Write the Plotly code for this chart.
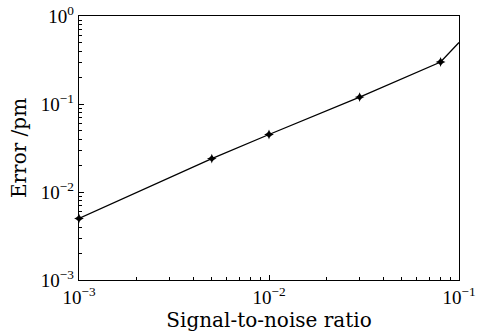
import plotly.graph_objects as go

snr = [0.001, 0.005, 0.01, 0.03, 0.08, 0.1]
error = [0.005, 0.024, 0.045, 0.12, 0.30, 0.50]

x_tickvals = [1e-3, 1e-2, 1e-1]
x_ticktext = ["10<sup>−3</sup>", "10<sup>−2</sup>", "10<sup>−1</sup>"]
y_tickvals = [1e-3, 1e-2, 1e-1, 1e0]
y_ticktext = ["10<sup>−3</sup>", "10<sup>−2</sup>", "10<sup>−1</sup>", "10<sup>0</sup>"]

x_minor = [m * 10.0 ** e for e in (-3, -2) for m in range(2, 10)]
y_minor = [m * 10.0 ** e for e in (-3, -2, -1) for m in range(2, 10)]

font = dict(family="Liberation Serif, Times New Roman, serif", size=19, color="black")
title_font = dict(family="DejaVu Serif, serif", size=20, color="black")

fig = go.Figure()
fig.add_trace(go.Scatter(
    x=snr, y=error, mode="lines+markers",
    line=dict(color="black", width=1.3),
    marker=dict(symbol="star-diamond", size=7, color="black"),
    cliponaxis=False, showlegend=False,
))

axis_common = dict(
    type="log", showgrid=False, zeroline=False, automargin=False,
    showline=True, linecolor="black", linewidth=1.3, mirror=True,
    ticks="inside", ticklen=5, tickwidth=1, tickcolor="black",
    tickfont=font, ticklabeloverflow="allow",
)

fig.update_xaxes(range=[-3, -1], tickvals=x_tickvals, ticktext=x_ticktext,
                 minor=dict(tickvals=x_minor, ticks="inside", ticklen=3, tickwidth=1,
                            tickcolor="black", showgrid=False),
                 title=dict(text="Signal-to-noise ratio", font=title_font, standoff=0),
                 **axis_common)
fig.update_yaxes(range=[-3, 0], tickvals=y_tickvals, ticktext=y_ticktext,
                 minor=dict(tickvals=y_minor, ticks="inside", ticklen=3, tickwidth=1,
                            tickcolor="black", showgrid=False),
                 title=dict(text="Error /pm", font=title_font, standoff=8),
                 **axis_common)

fig.update_layout(
    width=489, height=336,
    margin=dict(l=79, r=30, t=16, b=56),
    paper_bgcolor="white", plot_bgcolor="white",
    font=font,
)

fig.write_html("out.html", config={"displayModeBar": False, "staticPlot": True},
               post_script="document.body.style.margin='0px';")
